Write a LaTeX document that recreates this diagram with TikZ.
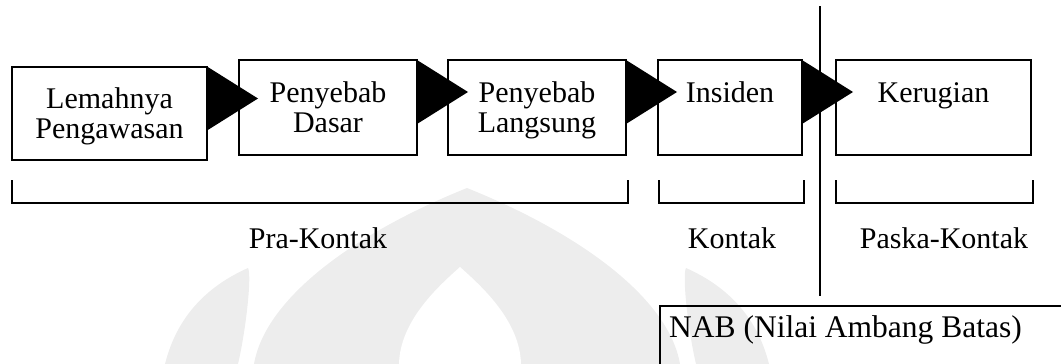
\documentclass[tikz,border=0pt]{standalone}
\usepackage{fontspec}
\setmainfont{Liberation Serif}
\begin{document}
\begin{tikzpicture}[x=1pt,y=-1pt,font=\fontsize{30}{30}\selectfont,
  blok/.style={draw,line width=2pt,inner sep=0pt,outer sep=0pt,align=center,text depth=0pt,minimum height=95pt},
  kurung/.style={line width=2pt},
  tanda/.style={gray!14}]
  \useasboundingbox (0,0) rectangle (1061,364);

  \fill[tanda] (254,364) .. controls (265,300) and (350,235) .. (467,188)
    .. controls (584,235) and (669,300) .. (680,364) -- cycle;
  \fill[white] (399,364) .. controls (400,320) and (440,285) .. (460,267)
    .. controls (480,285) and (520,320) .. (521,364) -- cycle;
  \fill[tanda] (165,364) .. controls (178,312) and (212,284) .. (248,268)
    .. controls (252,275) and (246,330) .. (238,364) -- cycle;
  \fill[tanda] (769,364) .. controls (756,312) and (722,284) .. (686,268)
    .. controls (682,275) and (688,330) .. (696,364) -- cycle;

  \node (lemah) at (109.5,113) [blok,minimum width=195pt,minimum height=93pt]{Lemahnya\\Pengawasan};
  \node (dasar) at (328,107.5) [blok,minimum width=178pt]{Penyebab\\Dasar};
  \node (langsung) at (537,107.5) [blok,minimum width=178pt]{Penyebab\\Langsung};
  \node (insiden) at (730,107.5) [blok,minimum width=144pt]{Insiden\\\mbox{}};
  \node (rugi) at (933.5,107.5) [blok,minimum width=195pt]{Kerugian\\\mbox{}};

  \foreach \a in {lemah,dasar,langsung,insiden}
    \fill (\a.north east) -- ++(51,32) -- ++(-51,32) -- cycle;

  \coordinate (atas) at (820,6);
  \coordinate (bawah) at (820,296);
  \draw[line width=1.6pt] (atas) -- (bawah);

  \coordinate (pra1) at (12,180);
  \coordinate (pra2) at (628,180);
  \coordinate (kon1) at (659,180);
  \coordinate (kon2) at (804,180);
  \coordinate (pas1) at (836,180);
  \coordinate (pas2) at (1033,180);

  \draw[kurung] (pra1) -- ++(0,23) -| (pra2);
  \draw[kurung] (kon1) -- ++(0,23) -| (kon2);
  \draw[kurung] (pas1) -- ++(0,23) -| (pas2);

  \node (tpra) at (318,248) [anchor=base]{Pra-Kontak};
  \node (tkon) at (732,248) [anchor=base]{Kontak};
  \node (tpas) at (944,248) [anchor=base]{Paska-Kontak};

  \draw[kurung] (660,364) |- (1061,306);
  \node (nab) at (669,337) [anchor=base west,inner sep=0pt,font=\fontsize{31.5}{32}\selectfont]{NAB (Nilai Ambang Batas)};

\end{tikzpicture}
\end{document}
